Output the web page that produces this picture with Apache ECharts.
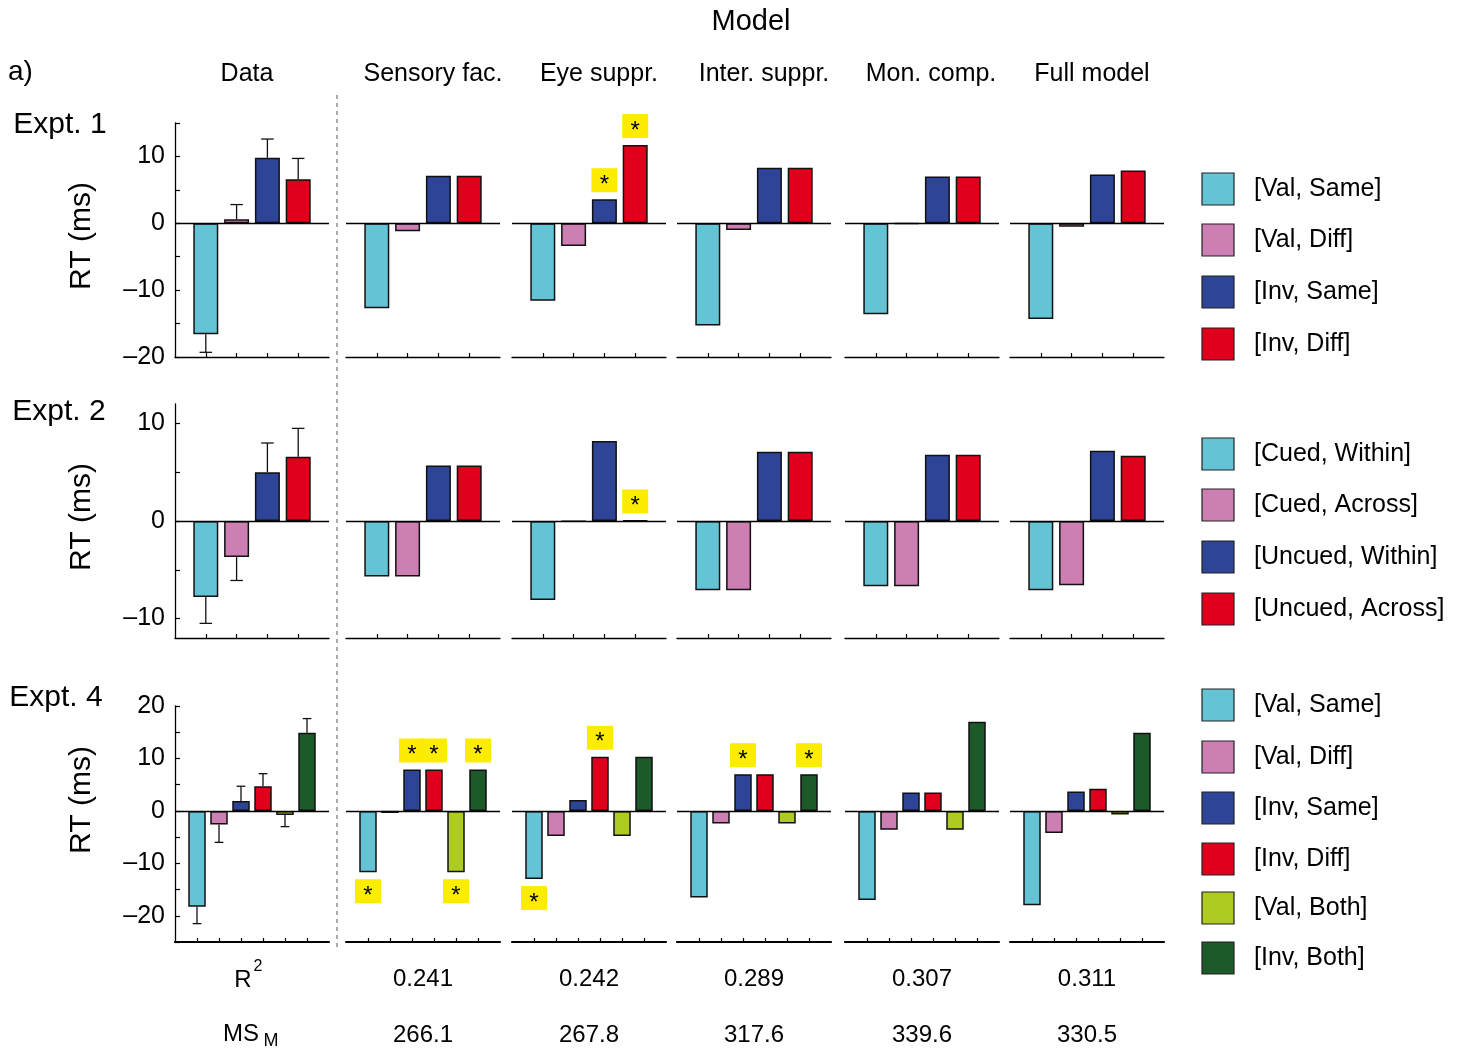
<!DOCTYPE html>
<html>
<head>
<meta charset="utf-8">
<script src="https://cdn.jsdelivr.net/npm/echarts@6/dist/echarts.min.js"></script>
<style>
  html, body { margin: 0; padding: 0; background: #fff; }
  #main { width: 1470px; height: 1049px; }
</style>
</head>
<body>
<div id="main"></div>
<script>
// column titles and legend names
var models = ["Data", "Sensory fac.", "Eye suppr.", "Inter. suppr.", "Mon. comp.", "Full model"];
var legend1 = ["[Val, Same]", "[Val, Diff]", "[Inv, Same]", "[Inv, Diff]"];
var legend2 = ["[Cued, Within]", "[Cued, Across]", "[Uncued, Within]", "[Uncued, Across]"];
var legend4 = ["[Val, Same]", "[Val, Diff]", "[Inv, Same]", "[Inv, Diff]", "[Val, Both]", "[Inv, Both]"];

// RT effects (ms), one row per column: Data, then the five models
var expt1 = [
    [-16.6, 0.6, 9.8, 6.6],
    [-12.7, -1.2, 7.1, 7.1],
    [-11.6, -3.4, 3.6, 11.7],
    [-15.3, -1.0, 8.3, 8.3],
    [-13.6, -0.1, 7.0, 7.0],
    [-14.3, -0.5, 7.3, 7.9]
];
var expt1Err = [-19.3, 2.8, 12.6, 9.7];
var expt2 = [
    [-7.8, -3.7, 5.0, 6.6],
    [-5.7, -5.7, 5.7, 5.7],
    [-8.1, -0.05, 8.2, 0.05],
    [-7.1, -7.1, 7.1, 7.1],
    [-6.7, -6.7, 6.8, 6.8],
    [-7.1, -6.6, 7.2, 6.7]
];
var expt2Err = [-10.5, -6.1, 8.0, 9.5];
var expt4 = [
    [-18.3, -2.6, 1.9, 4.7, -0.8, 14.9],
    [-11.7, -0.4, 7.9, 7.9, -11.7, 7.9],
    [-13.0, -4.8, 2.1, 10.3, -4.8, 10.3],
    [-16.5, -2.4, 7.0, 7.0, -2.4, 7.0],
    [-17.0, -3.6, 3.5, 3.5, -3.6, 17.0],
    [-18.0, -4.2, 3.7, 4.2, -0.7, 14.9]
];
var expt4Err = [-21.5, -6.0, 4.7, 7.1, -3.0, 17.6];

// significant deviations: [column, bar]
var stars1 = [[2, 2], [2, 3]];
var stars2 = [[2, 3]];
var stars4 = [[1, 0], [1, 2], [1, 3], [1, 4], [1, 5], [2, 0], [2, 3], [3, 2], [3, 5]];

// y ticks and labels
var ticks1 = [-20, -15, -10, -5, 0, 5, 10, 15];
var labels1 = [-20, -10, 0, 10];
var ticks2 = [-10, -5, 0, 5, 10];
var labels2 = [-10, 0, 10];
var ticks4 = [-25, -20, -15, -10, -5, 0, 5, 10, 15, 20];
var labels4 = [-20, -10, 0, 10, 20];

// fit table
var r2 = ["0.241", "0.242", "0.289", "0.307", "0.311"];
var msm = ["266.1", "267.8", "317.6", "339.6", "330.5"];

var colors = ["#64C4D6", "#CD7EB3", "#2E4497", "#E0001C", "#ADCB20", "#1C5B29"];
var FONT = "Liberation Sans, Arial, sans-serif";

// layout
var colLeft = [175, 346, 512, 677, 845, 1010];
var colW = 154;
var rows = [
    { name: "Expt. 1", top: 123, h: 234, min: -20, max: 15, ticks: ticks1, labels: labels1,
      vals: expt1, err: expt1Err, stars: stars1, legend: legend1, barW: 25, axisW: 1.3,
      legendY: [189, 240, 292, 344], nameX: 60, nameY: 125, rtY: 236 },
    { name: "Expt. 2", top: 404, h: 234, min: -12, max: 12, ticks: ticks2, labels: labels2,
      vals: expt2, err: expt2Err, stars: stars2, legend: legend2, barW: 25, axisW: 1.3,
      legendY: [454, 505, 557, 609], nameX: 59, nameY: 412, rtY: 517 },
    { name: "Expt. 4", top: 706, h: 236, min: -25, max: 20, ticks: ticks4, labels: labels4,
      vals: expt4, err: expt4Err, stars: stars4, legend: legend4, barW: 17.5, axisW: 2.2,
      legendY: [705, 757, 808, 859, 908, 958], nameX: 56, nameY: 698, rtY: 800 }
];

var myChart = echarts.init(document.getElementById("main"));

var grids = [], xAxes = [], yAxes = [], series = [], graphics = [];

function fmt(v) {
    return v < 0 ? "\u2013" + (-v) : String(v);
}

function txt(x, y, s, size, align) {
    return { type: "text", x: x, y: y,
        style: { text: s, font: size + "px " + FONT, fill: "#000", align: align || "center", verticalAlign: "middle" } };
}

rows.forEach(function (row, r) {
    var n = row.vals[0].length;
    var cats = [""];
    for (var k = 0; k < n; k++) cats.push("c" + k);
    cats.push("");

    for (var c = 0; c < 6; c++) {
        var gi = grids.length;
        grids.push({ left: colLeft[c], top: row.top, width: colW, height: row.h, outerBoundsMode: "none" });
        xAxes.push({
            type: "category", gridIndex: gi, data: cats, boundaryGap: false,
            axisLine: { onZero: false, lineStyle: { color: "#000", width: row.axisW } },
            axisTick: {
                inside: true, length: 4, lineStyle: { color: "#000", width: 1.2 },
                interval: (function (nn) { return function (i) { return i > 0 && i < nn + 1; }; })(n)
            },
            axisLabel: { show: false },
            splitLine: { show: false }
        });
        yAxes.push({
            type: "value", gridIndex: gi, min: row.min, max: row.max,
            axisLine: { show: c === 0, lineStyle: { color: "#000", width: 1.3 } },
            axisTick: { show: c === 0, inside: true, length: 5, customValues: row.ticks, lineStyle: { color: "#000", width: 1.2 } },
            axisLabel: {
                show: c === 0, customValues: row.labels, formatter: fmt, margin: 10,
                color: "#000", fontSize: 25, fontFamily: FONT
            },
            splitLine: { show: false }
        });

        var barData = [null];
        row.vals[c].forEach(function (v, k) {
            barData.push({ value: v, itemStyle: { color: colors[k] } });
        });
        barData.push(null);
        series.push({
            type: "bar", xAxisIndex: gi, yAxisIndex: gi, data: barData, barWidth: row.barW,
            itemStyle: { borderColor: "#111", borderWidth: 1.5 },
            silent: true, animation: false,
            markLine: {
                silent: true, symbol: "none", animation: false,
                label: { show: false },
                lineStyle: { color: "#000", width: 1.3, type: "solid" },
                data: [{ yAxis: 0 }]
            }
        });

        if (c === 0) {
            var errData = row.err.map(function (e, k) { return [k + 1, row.vals[0][k], e]; });
            series.push({
                type: "custom", xAxisIndex: gi, yAxisIndex: gi, data: errData, silent: true, animation: false,
                renderItem: (function (capW) {
                    return function (params, api) {
                        var p0 = api.coord([api.value(0), api.value(1)]);
                        var p1 = api.coord([api.value(0), api.value(2)]);
                        var st = { stroke: "#111", lineWidth: 1.3 };
                        return {
                            type: "group", children: [
                                { type: "line", shape: { x1: p0[0], y1: p0[1], x2: p1[0], y2: p1[1] }, style: st },
                                { type: "line", shape: { x1: p1[0] - capW / 2, y1: p1[1], x2: p1[0] + capW / 2, y2: p1[1] }, style: st }
                            ]
                        };
                    };
                })(row.barW / 2)
            });
        }

        var starData = row.stars.filter(function (s) { return s[0] === c; })
            .map(function (s) { return [s[1] + 1, row.vals[c][s[1]]]; });
        if (starData.length) {
            series.push({
                type: "custom", xAxisIndex: gi, yAxisIndex: gi, data: starData, silent: true, animation: false, z: 5,
                renderItem: function (params, api) {
                    var v = api.value(1);
                    var p = api.coord([api.value(0), v]);
                    var cy = v >= 0 ? p[1] - 19 : p[1] + 19;
                    return {
                        type: "group", children: [
                            { type: "rect", shape: { x: p[0] - 13, y: cy - 12, width: 26, height: 24 }, style: { fill: "#FCEC00" } },
                            { type: "text", x: p[0], y: cy + 5, style: { text: "*", fill: "#000", font: "24px " + FONT, align: "center", verticalAlign: "middle" } }
                        ]
                    };
                }
            });
        }
    }

    // row label, axis name, legend
    graphics.push(txt(row.nameX, row.nameY, row.name, 30));
    var rt = txt(82, row.rtY, "RT (ms)", 30);
    rt.rotation = Math.PI / 2;
    graphics.push(rt);
    row.legend.forEach(function (name, k) {
        var y = row.legendY[k];
        graphics.push({ type: "rect", shape: { x: 1202, y: y - 16, width: 32, height: 32 },
            style: { fill: colors[k], stroke: "#222", lineWidth: 1.2 } });
        graphics.push(txt(1254, y, name, 25, "left"));
    });
});

// titles
graphics.push(txt(751, 22, "Model", 29));
graphics.push(txt(8, 72, "a)", 28, "left"));
var headerX = [247, 433, 599, 764, 931, 1092];
models.forEach(function (m, c) {
    graphics.push(txt(headerX[c], 74, m, 25));
});

// dashed separator
graphics.push({ type: "line", shape: { x1: 337, y1: 95, x2: 337, y2: 950 },
    style: { stroke: "#aaa", lineWidth: 2, lineDash: [4, 4] } });

// fit table
graphics.push(txt(243, 980, "R", 24));
graphics.push(txt(258, 967, "2", 16));
graphics.push(txt(241, 1034, "MS", 24));
graphics.push(txt(271, 1041, "M", 18));
for (var i = 0; i < r2.length; i++) {
    var cx = colLeft[i + 1] + colW / 2;
    graphics.push(txt(cx, 979, r2[i], 24));
    graphics.push(txt(cx, 1035, msm[i], 24));
}

var option = {
    backgroundColor: "#fff",
    animation: false,
    grid: grids,
    xAxis: xAxes,
    yAxis: yAxes,
    series: series,
    graphic: { elements: graphics }
};
myChart.setOption(option);
</script>
</body>
</html>
